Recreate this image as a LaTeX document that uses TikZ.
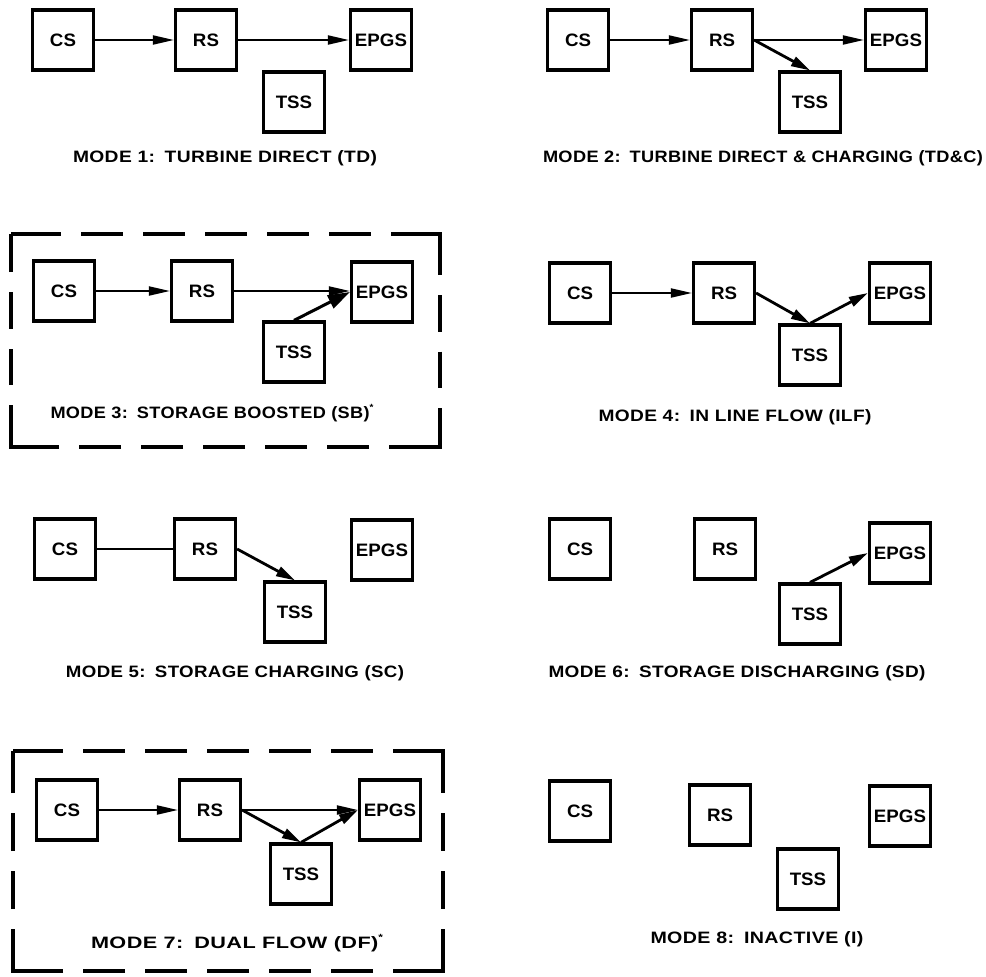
\documentclass[tikz,border=0pt]{standalone}
\usepackage{fontspec}
\setmainfont{Liberation Sans}
\newfontfamily\lblfont{Liberation Sans Bold}[LetterSpace=2]
\newfontfamily\bxfont{Liberation Sans Bold}
\usetikzlibrary{arrows.meta}
\newsavebox\lblbox
\newcommand\fitlabel[2]{\sbox\lblbox{#2}\pgfmathsetmacro\lblscale{#1/\the\wd\lblbox}\scalebox{\lblscale}[1]{\usebox\lblbox}}
\newcommand\bxtxt[1]{\scalebox{1.04}[1]{#1}}
\tikzset{
  sysbox/.style={draw, line width=3.2pt, minimum width=61pt, minimum height=60pt, inner sep=0pt, font=\fontsize{18}{18}\bxfont},
  flow/.style={line width=2pt, -{Triangle[length=21pt,width=9pt]}},
  dflow/.style={line width=2.8pt, -{Triangle[length=19pt,width=10pt]}},
  bflow/.style={line width=3pt, -{Triangle[length=22pt,width=14pt]}},
  plainline/.style={line width=2pt},
  modelabel/.style={inner sep=0pt, font=\fontsize{16.5}{16.5}\lblfont},
  frame/.style={line width=3.4pt, line join=miter},
}
\begin{document}
\begin{tikzpicture}[x=1pt,y=-1pt]
\useasboundingbox (0,0) rectangle (986,977);

% ---------- MODE 1 ----------
\node[sysbox] (a1) at (63,40) {\bxtxt{CS}};
\node[sysbox] (b1) at (206,40) {\bxtxt{RS}};
\node[sysbox] (c1) at (381,40) {\bxtxt{EPGS}};
\node[sysbox] (d1) at (294,102) {\bxtxt{TSS}};
\draw[flow] (a1) -- (b1);
\draw[flow] (b1) -- (c1);
\node[modelabel] (l1) at (225,158) {\fitlabel{304}{MODE 1:\hspace{0.5em}TURBINE DIRECT (TD)}};

% ---------- MODE 2 ----------
\node[sysbox] (a2) at (578,40) {\bxtxt{CS}};
\node[sysbox] (b2) at (722,40) {\bxtxt{RS}};
\node[sysbox] (c2) at (896,40) {\bxtxt{EPGS}};
\node[sysbox] (d2) at (810,102) {\bxtxt{TSS}};
\draw[flow] (a2) -- (b2);
\draw[flow] (b2) -- (c2);
\draw[dflow] (b2.east) -- (d2.north);
\node[modelabel] (l2) at (763,158) {\fitlabel{440}{MODE 2:\hspace{0.5em}TURBINE DIRECT \& CHARGING (TD\&C)}};

% ---------- MODE 3 ----------
\draw[frame, dash pattern=on 50pt off 20pt on 42pt off 20pt on 42pt off 20pt on 42pt off 20pt on 42pt off 20pt on 42pt off 20pt
  on 90pt off 20pt on 36.5pt off 20pt on 36.5pt off 20pt
  on 90pt off 20pt on 42pt off 20pt on 42pt off 20pt on 42pt off 20pt on 42pt off 20pt on 42pt off 20pt
  on 90pt off 20pt on 36.5pt off 20pt on 36.5pt off 20pt on 40pt]
  (11,234) -- (440,234) -- (440,447) -- (11,447) -- cycle;
\node[sysbox] (a3) at (64,291) {\bxtxt{CS}};
\node[sysbox] (b3) at (202,291) {\bxtxt{RS}};
\node[sysbox] (c3) at (382,292) {\bxtxt{EPGS}};
\node[sysbox] (d3) at (294,352) {\bxtxt{TSS}};
\draw[flow] (a3) -- (b3);
\draw[flow] (b3.east) -- (b3.east -| c3.west);
\draw[bflow] (d3.north) -- (c3.west);
\node[modelabel] (l3) at (212,413) {\fitlabel{323}{MODE 3:\hspace{0.5em}STORAGE BOOSTED (SB)\raisebox{0.5em}{\fontsize{9}{9}\selectfont *}}};

% ---------- MODE 4 ----------
\node[sysbox] (a4) at (580,293) {\bxtxt{CS}};
\node[sysbox] (b4) at (724,293) {\bxtxt{RS}};
\node[sysbox] (c4) at (900,293) {\bxtxt{EPGS}};
\node[sysbox] (d4) at (810,355) {\bxtxt{TSS}};
\draw[flow] (a4) -- (b4);
\draw[dflow] (b4.east) -- (d4.north);
\draw[dflow] (d4.north) -- (c4.west);
\node[modelabel] (l4) at (735,417) {\fitlabel{273}{MODE 4:\hspace{0.5em}IN LINE FLOW (ILF)}};

% ---------- MODE 5 ----------
\node[sysbox] (a5) at (65,549) {\bxtxt{CS}};
\node[sysbox] (b5) at (205,549) {\bxtxt{RS}};
\node[sysbox] (c5) at (382,550) {\bxtxt{EPGS}};
\node[sysbox] (d5) at (295,612) {\bxtxt{TSS}};
\draw[plainline] (a5) -- (b5);
\draw[dflow] (b5.east) -- (d5.north);
\node[modelabel] (l5) at (235,673) {\fitlabel{338}{MODE 5:\hspace{0.5em}STORAGE CHARGING (SC)}};

% ---------- MODE 6 ----------
\node[sysbox] (a6) at (580,549) {\bxtxt{CS}};
\node[sysbox] (b6) at (725,549) {\bxtxt{RS}};
\node[sysbox] (c6) at (900,553) {\bxtxt{EPGS}};
\node[sysbox] (d6) at (810,614) {\bxtxt{TSS}};
\draw[dflow] (d6.north) -- (c6.west);
\node[modelabel] (l6) at (737,673) {\fitlabel{377}{MODE 6:\hspace{0.5em}STORAGE DISCHARGING (SD)}};

% ---------- MODE 7 ----------
\draw[frame, dash pattern=on 50pt off 20pt on 42pt off 20pt on 42pt off 20pt on 42pt off 20pt on 42pt off 20pt on 42pt off 20pt
  on 92pt off 20pt on 38pt off 20pt on 38pt off 20pt
  on 92pt off 20pt on 42pt off 20pt on 42pt off 20pt on 42pt off 20pt on 42pt off 20pt on 42pt off 20pt
  on 92pt off 20pt on 38pt off 20pt on 38pt off 20pt on 42pt]
  (13,751) -- (443,751) -- (443,971) -- (13,971) -- cycle;
\node[sysbox] (a7) at (67,810) {\bxtxt{CS}};
\node[sysbox] (b7) at (210,810) {\bxtxt{RS}};
\node[sysbox] (c7) at (390,810) {\bxtxt{EPGS}};
\node[sysbox] (d7) at (301,874) {\bxtxt{TSS}};
\draw[flow] (a7) -- (b7);
\draw[flow] (b7) -- (c7);
\draw[dflow] (b7.east) -- (d7.north);
\draw[dflow] (d7.north) -- (c7.west);
\node[modelabel] (l7) at (237,943) {\fitlabel{292}{MODE 7:\hspace{0.5em}DUAL FLOW (DF)\raisebox{0.5em}{\fontsize{9}{9}\selectfont *}}};

% ---------- MODE 8 ----------
\node[sysbox] (a8) at (580,811) {\bxtxt{CS}};
\node[sysbox] (b8) at (720,815) {\bxtxt{RS}};
\node[sysbox] (c8) at (900,816) {\bxtxt{EPGS}};
\node[sysbox] (d8) at (808,879) {\bxtxt{TSS}};
\node[modelabel] (l8) at (757,939) {\fitlabel{213}{MODE 8:\hspace{0.5em}INACTIVE (I)}};
\end{tikzpicture}
\end{document}
